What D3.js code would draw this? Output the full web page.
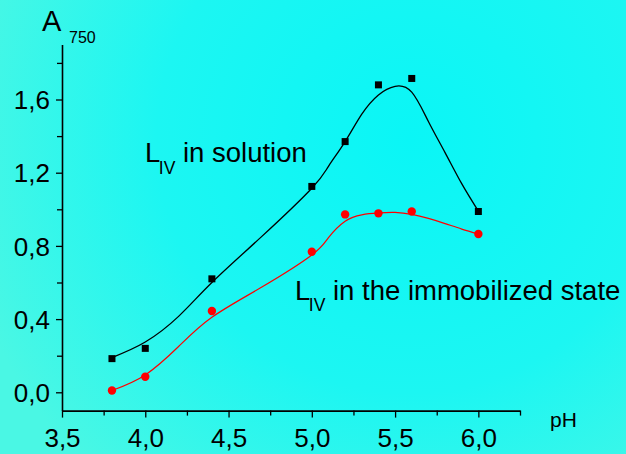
<!DOCTYPE html>
<html>
<head>
<meta charset="utf-8">
<script src="https://cdn.jsdelivr.net/npm/d3@7"></script>
<style>
  html, body { margin: 0; padding: 0; background: #20f4f0; }
  svg { display: block; }
  text { font-family: "Liberation Sans", Arial, sans-serif; fill: #000; }
</style>
</head>
<body>
<div id="chart"></div>
<script>
// ---- data ----
const phPoints = [3.8, 4.0, 4.4, 5.0, 5.2, 5.4, 5.6, 6.0];
const solutionValues = [0.184, 0.24, 0.62, 1.125, 1.37, 1.68, 1.715, 0.988];
const immobilizedValues = [0.01, 0.085, 0.444, 0.768, 0.972, 0.978, 0.988, 0.865];

// fitted curves as drawn in the figure
const curvePh = [3.8, 4.0, 4.2, 4.4, 4.7, 5.0, 5.1, 5.2, 5.3, 5.4, 5.5, 5.6, 5.7, 5.8, 5.9, 6.0];
const solutionCurve = [0.19, 0.275, 0.415, 0.60, 0.852, 1.115, 1.235, 1.37, 1.52, 1.625, 1.672, 1.64, 1.48, 1.31, 1.14, 0.99];
const immobilizedCurve = [0.01, 0.095, 0.25, 0.41, 0.575, 0.75, 0.845, 0.935, 0.97, 0.98, 0.983, 0.972, 0.95, 0.922, 0.892, 0.865];

const xMajor = [3.5, 4.0, 4.5, 5.0, 5.5, 6.0];
const xMinor = [3.75, 4.25, 4.75, 5.25, 5.75, 6.25];
const yMajor = [0.0, 0.4, 0.8, 1.2, 1.6];
const yMinor = [0.2, 0.6, 1.0, 1.4, 1.8];

const W = 626, H = 454;
const fmt = d => d.toFixed(1).replace(".", ",");

const svg = d3.select("#chart").append("svg")
  .attr("width", W).attr("height", H);

// background
const defs = svg.append("defs");
const grad = defs.append("radialGradient")
  .attr("id", "bg").attr("gradientUnits", "userSpaceOnUse")
  .attr("cx", 410).attr("cy", 140).attr("r", 460);
grad.append("stop").attr("offset", "0%").attr("stop-color", "#0af6f6");
grad.append("stop").attr("offset", "55%").attr("stop-color", "#1cf6f2");
grad.append("stop").attr("offset", "100%").attr("stop-color", "#4af7e4");
svg.append("rect").attr("width", W).attr("height", H).attr("fill", "url(#bg)");

// scales
const x = d3.scaleLinear().domain([3.5, 6.25]).range([62, 520]);
const y = d3.scaleLinear().domain([-0.1, 1.9]).range([410.6, 44.6]);

// axes
const axX = svg.append("g").attr("transform", `translate(0,${y(-0.1)})`);
axX.call(d3.axisBottom(x).tickValues(xMajor).tickSize(7).tickSizeOuter(0).tickFormat(fmt));
const axXm = svg.append("g").attr("transform", `translate(0,${y(-0.1)})`);
axXm.call(d3.axisBottom(x).tickValues(xMinor).tickSize(5).tickSizeOuter(0).tickFormat(""));
axXm.select(".domain").remove();

const axY = svg.append("g").attr("transform", `translate(${x(3.5)},0)`);
axY.call(d3.axisLeft(y).tickValues(yMajor).tickSize(6).tickSizeOuter(0).tickFormat(fmt));
const axYm = svg.append("g").attr("transform", `translate(${x(3.5)},0)`);
axYm.call(d3.axisLeft(y).tickValues(yMinor).tickSize(5).tickSizeOuter(0).tickFormat(""));
axYm.select(".domain").remove();

svg.selectAll(".domain").attr("stroke", "#000").attr("stroke-width", 1.6);
svg.selectAll(".tick line").attr("stroke", "#000").attr("stroke-width", 1.3);

axX.selectAll(".tick text")
  .attr("font-size", 26).attr("font-family", "Liberation Sans, Arial, sans-serif")
  .attr("fill", "#000").attr("y", 0).attr("dy", null)
  .attr("transform", "translate(0,36)");
axY.selectAll(".tick text")
  .attr("font-size", 26).attr("font-family", "Liberation Sans, Arial, sans-serif")
  .attr("fill", "#000").attr("x", -12).attr("dy", "0.35em");

// curves
const line = d3.line().x(d => x(d[0])).y(d => y(d[1])).curve(d3.curveNatural);

svg.append("path")
  .attr("d", line(d3.zip(curvePh, solutionCurve)))
  .attr("fill", "none").attr("stroke", "#000").attr("stroke-width", 1.3);
svg.append("path")
  .attr("d", line(d3.zip(curvePh, immobilizedCurve)))
  .attr("fill", "none").attr("stroke", "#f00").attr("stroke-width", 1.2);

// markers
const sq = 7;
svg.append("g").selectAll("rect")
  .data(d3.zip(phPoints, solutionValues))
  .join("rect")
  .attr("x", d => x(d[0]) - sq / 2).attr("y", d => y(d[1]) - sq / 2)
  .attr("width", sq).attr("height", sq).attr("fill", "#000");

svg.append("g").selectAll("circle")
  .data(d3.zip(phPoints, immobilizedValues))
  .join("circle")
  .attr("cx", d => x(d[0])).attr("cy", d => y(d[1]))
  .attr("r", 4.2).attr("fill", "#f00");

// axis titles
svg.append("text").attr("x", 42).attr("y", 31).attr("font-size", 29).text("A");
svg.append("text").attr("x", 69).attr("y", 43).attr("font-size", 16).text("750");
svg.append("text").attr("x", 550).attr("y", 427).attr("font-size", 21).text("pH");

// series labels
function seriesLabel(x0, base, rest) {
  const t = svg.append("text").attr("x", x0).attr("y", base).attr("font-size", 27.5);
  t.append("tspan").text("L");
  t.append("tspan").attr("font-size", 17.5).attr("dy", 11.5).attr("dx", -1.5).text("IV");
  t.append("tspan").attr("dy", -11.5).text(" " + rest);
}
seriesLabel(145, 162, "in solution");
seriesLabel(295, 299.5, "in the immobilized state");
</script>
</body>
</html>
